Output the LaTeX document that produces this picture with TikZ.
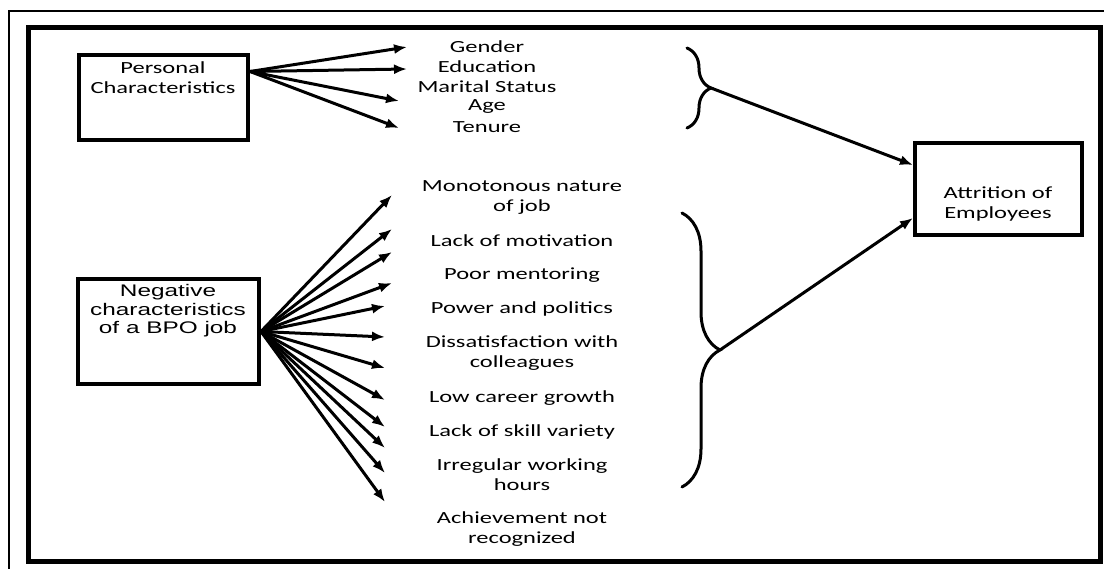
\documentclass[tikz,border=0pt]{standalone}
\usepackage{fontspec}
\newfontfamily\calibfont[FakeStretch=1.44]{Carlito}
\newfontfamily\arialfont[FakeStretch=1.45]{Liberation Sans}
\usepackage{tikz}
\usetikzlibrary{arrows.meta}
\usetikzlibrary{decorations.pathreplacing}

\begin{document}
\begin{tikzpicture}
[x=1pt,y=-1pt,
  boxdecorate/.style={shape=rectangle,draw,line width=4pt,inner sep=0pt},
  labeldecorate/.style={font=\calibfont\fontsize{17}{20}\selectfont,align=center,inner sep=0pt},
  linedecorate/.style={-{Latex[length=13pt,width=10pt]},line width=3pt},
  bracedecorate/.style={decorate,line width=3pt,line cap=round}]
\useasboundingbox (0,0) rectangle (1104,569);
\fill[white] (0,0) rectangle (1104,569);
%% frames
\draw[line width=2pt] (8.5,569) -- (8.5,11) -- (1104,11);
\draw[line width=5pt] (28.5,28) rectangle (1100,561);
%% boxes
\node (personal) at (163.5,97.5) [boxdecorate,minimum width=169pt,minimum height=85pt] {};
\node (negative) at (168.5,331.5) [boxdecorate,minimum width=181pt,minimum height=105pt] {};
\node (attrition) at (998.5,189) [boxdecorate,minimum width=167pt,minimum height=92pt] {};
\node (personalname) at (163,78) [labeldecorate] {Personal\\Characteristics};
\node (negativename) at (168,311) [labeldecorate,font=\arialfont\fontsize{16.8}{18.5}\selectfont] {Negative\\characteristics\\of a BPO job};
\node (attritionname) at (998,204) [labeldecorate] {Attrition of\\Employees};
%% labels
\foreach \nodename/\x/\y/\labeltext in {gender/487/47/Gender, education/487/67/Education,
  marital/487/87/Marital Status, age/487/107/Age, tenure/487/127/Tenure,
  mono/522/198/{Monotonous nature\\of job}, lackmot/522/241/Lack of motivation,
  mentor/522/275/Poor mentoring, power/522/309/Power and politics,
  dissat/522/353/{Dissatisfaction with\\colleagues}, career/522/398/Low career growth,
  skill/522/432/Lack of skill variety, irregular/522/475/{Irregular working\\hours},
  achieve/522/529/{Achievement not\\recognized}}
{
  \node (\nodename) at (\x,\y) [labeldecorate] {\labeltext};
}
%% arrow tips
\foreach \tipname/\x/\y in {ptip1/407/47, ptip2/407/69, ptip3/399/101, ptip4/399/128,
  ntip1/392/195, ntip2/392/229, ntip3/392/252, ntip4/392/283, ntip5/385/306,
  ntip6/385/337, ntip7/385/368, ntip8/385/400, ntip9/385/427, ntip10/385/448,
  ntip11/385/473, ntip12/385/502, toptip/711/88, lowtip/720/350}
{
  \coordinate (\tipname) at (\x,\y);
}
%% braces
\draw[bracedecorate,decoration={brace,amplitude=24pt}] (687,48) -- (687,128);
\draw[bracedecorate,decoration={brace,amplitude=38pt}] (682,213) -- (682,487);
%% edges
\foreach \endnode in {ptip1, ptip2, ptip3, ptip4}
{
  \draw[linedecorate] ([yshift=26pt]personal.east) -- (\endnode);
}
\foreach \endnode in {ntip1, ntip2, ntip3, ntip4, ntip5, ntip6, ntip7, ntip8,
  ntip9, ntip10, ntip11, ntip12}
{
  \draw[linedecorate] (negative.east) -- (\endnode);
}
\draw[linedecorate] (toptip) -- ([yshift=24pt]attrition.west);
\draw[linedecorate] (lowtip) -- ([yshift=-29pt]attrition.west);
\end{tikzpicture}
\end{document}
